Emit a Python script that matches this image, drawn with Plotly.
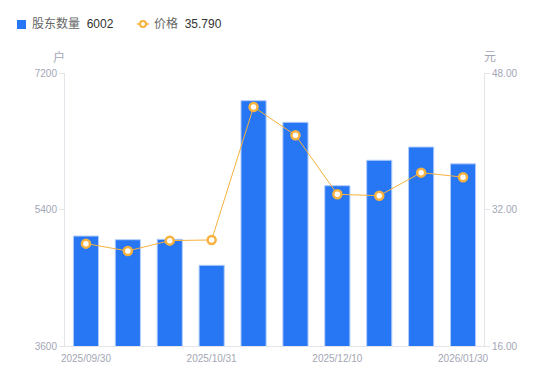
import plotly.graph_objects as go

dates = ["2025/09/30", "2025/10/10", "2025/10/20", "2025/10/31", "2025/11/10",
         "2025/11/20", "2025/12/10", "2025/12/20", "2026/01/09", "2026/01/30"]
holders = [5050, 5002, 5007, 4664, 6835, 6550, 5714, 6049, 6224, 6002]
prices = [28.00, 27.14, 28.35, 28.43, 44.02, 40.70, 33.78, 33.62, 36.32, 35.79]
x_tick_labels = ["2025/09/30", "2025/10/31", "2025/12/10", "2026/01/30"]
left_ticks = [3600, 5400, 7200]
right_ticks = [16, 32, 48]

gray = "#a3a6b4"
axis_line = "#e3e5ea"
bar_color = "#2776F3"
line_color = "#F7B23F"
FONT = "'Liberation Sans', Arial, 'Noto Sans CJK SC', sans-serif"

L, R, T, B = 65, 66, 73, 35
WID, HEI = 550, 381
W = WID - L - R
H = HEI - T - B


def px(x):
    return (x - L) / W


def py(y):
    return (HEI - B - y) / H


fig = go.Figure()
fig.add_trace(go.Bar(
    x=dates, y=holders, name="股东数量",
    marker=dict(color=bar_color, line=dict(color="#b3cdfa", width=1)),
    width=0.6, yaxis="y",
))
fig.add_trace(go.Scatter(
    x=dates, y=prices, name="价格", mode="lines+markers",
    line=dict(color=line_color, width=1),
    marker=dict(symbol="circle", size=8, color="white", line=dict(color=line_color, width=2.5)),
    yaxis="y2",
))

annotations = [
    dict(text="户", x=px(59), y=py(57), xref="paper", yref="paper", showarrow=False,
         xanchor="center", yanchor="middle", font=dict(size=12, color=gray, family=FONT)),
    dict(text="元", x=px(490), y=py(57), xref="paper", yref="paper", showarrow=False,
         xanchor="center", yanchor="middle", font=dict(size=12, color=gray, family=FONT)),
    dict(text=f"股东数量  <span style='color:#333333'>{holders[-1]}</span>",
         x=px(30), y=py(24), xref="paper", yref="paper", xanchor="left", yanchor="middle",
         showarrow=False, font=dict(size=12, color="#666666", family=FONT)),
    dict(text=f"价格  <span style='color:#333333'>{prices[-1]:.3f}</span>",
         x=px(152), y=py(24), xref="paper", yref="paper", xanchor="left", yanchor="middle",
         showarrow=False, font=dict(size=12, color="#666666", family=FONT)),
]
shapes = [
    dict(type="rect", xref="paper", yref="paper", x0=px(17), x1=px(26), y0=py(20), y1=py(29),
         fillcolor=bar_color, line=dict(width=0)),
    dict(type="line", xref="paper", yref="paper", x0=px(137), x1=px(149), y0=py(24), y1=py(24),
         line=dict(color=line_color, width=1.5)),
    dict(type="circle", xref="paper", yref="paper", x0=px(140), x1=px(146), y0=py(21), y1=py(27),
         fillcolor="white", line=dict(color=line_color, width=2)),
]

fig.update_layout(
    width=WID, height=HEI,
    margin=dict(l=L, r=R, t=T, b=B, autoexpand=False),
    paper_bgcolor="white", plot_bgcolor="white",
    font=dict(family=FONT, size=10, color=gray),
    showlegend=False,
    bargap=0.4,
    xaxis=dict(type="category", range=[-0.5, len(dates) - 0.5],
               tickmode="array", tickvals=x_tick_labels, ticktext=x_tick_labels,
               showline=True, linecolor=axis_line, linewidth=1,
               ticks="outside", ticklen=3, tickcolor="rgba(0,0,0,0)", showgrid=False,
               automargin=False, tickfont=dict(size=10, color=gray)),
    yaxis=dict(range=[3600, 7200], tickvals=left_ticks, showgrid=False, zeroline=False,
               showline=True, linecolor=axis_line, linewidth=1, ticks="outside",
               ticklen=5, tickcolor=axis_line, automargin=False,
               tickfont=dict(size=10, color=gray)),
    yaxis2=dict(range=[16, 48], tickvals=right_ticks, tickformat=".2f", overlaying="y",
                side="right", showgrid=False, zeroline=False, showline=True,
                linecolor=axis_line, linewidth=1, ticks="outside", ticklen=5,
                tickcolor=axis_line, automargin=False, tickfont=dict(size=10, color=gray)),
    annotations=annotations,
    shapes=shapes,
)

fig.write_html("out.html", config={"displayModeBar": False},
               post_script="document.body.style.margin='0';document.body.style.overflow='hidden';")
